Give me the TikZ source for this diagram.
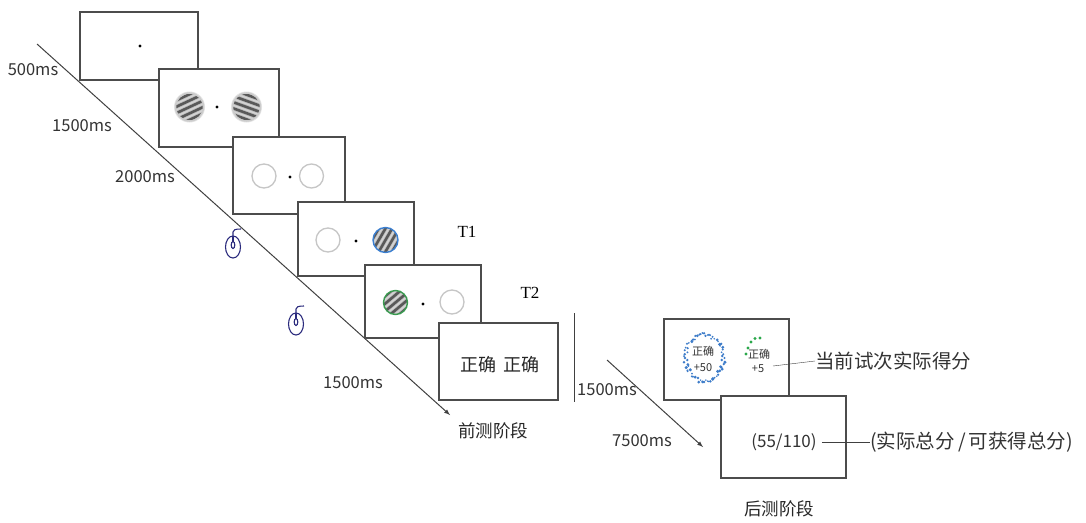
\documentclass[tikz,border=0pt]{standalone}
\usepackage{fontspec}
\setmainfont{Liberation Serif}
\newfontfamily\cjk{Noto Sans CJK SC}
\usetikzlibrary{arrows}
\usetikzlibrary{calc}
\usetikzlibrary{positioning}
\definecolor{mouseblue}{HTML}{2B2B7D}
\definecolor{rimblue}{HTML}{3B7FD0}
\definecolor{rimgreen}{HTML}{3A9A50}
\definecolor{dotblue}{HTML}{3D7CC9}
\definecolor{dotgreen}{HTML}{2AA84A}
\newcommand\fixdot[1]{\fill (#1) circle (1.6);}
\newcommand\ring[1]{\draw[gray!45, line width=1.3] (#1) circle (12);}
\newcommand\gabor[4]{% centre, radius, stripe angle, rim
    \begin{scope}
        \clip (#1) circle (#2);
        \fill[gray!50] (#1) circle (#2);
        \begin{scope}[shift={(#1)}, rotate=#3]
            \foreach \k in {-3,...,3}
                \draw[black!65, line width=2.6] (-20,\k*5.8) -- (20,\k*5.8);
            \foreach \k in {-3,...,2}
                \draw[white, opacity=0.35, line width=1.2] (-20,\k*5.8+2.9) -- (20,\k*5.8+2.9);
        \end{scope}
    \end{scope}
    \draw[#4] (#1) circle (#2);
}
\newcommand\mouse[1]{%
    \begin{scope}[shift={(#1)}, mouseblue, line width=1.1]
        \draw (0,0) ellipse (7.5 and 11);
        \draw (0,-11) -- (0,-5.5);
        \draw (0,-2) ellipse (1.8 and 3.5);
        \draw (0,-11) -- (0,-15) .. controls (0,-17) and (2,-18) .. (8,-18);
    \end{scope}
}

\begin{document}
\begin{tikzpicture}[x=1pt, y=-1pt,
    screen/.style={draw=black!70, line width=1.2, fill=white},
    ms/.style={font=\cjk\fontsize{16.5}{18}\selectfont, text=black!80, inner sep=0},
    phase/.style={font=\cjk\fontsize{17.5}{19}\selectfont, text=black!85, inner sep=0},
    note/.style={font=\cjk\fontsize{19.5}{21}\selectfont, text=black!80, inner sep=0},
    small/.style={font=\cjk\fontsize{11}{12}\selectfont, text=black!80, inner sep=0}]
    \useasboundingbox (0,0) rectangle (1086,522);
    %% pre-test timeline
    \coordinate (t0) at (37,44);
    \coordinate (t1) at (450,415);
    \draw[black!75, line width=1, -latex] (t0) -- (t1);
    \draw (33,70) node[ms](d1){500ms};
    \draw (82,126) node[ms](d2){1500ms};
    \draw (145,177) node[ms](d3){2000ms};
    \draw (353,383) node[ms](d6){1500ms};
    \draw (493,431) node[phase](pre){前测阶段};
    %% screens
    %% -- fixation
    \draw[screen] (80,12) rectangle (198,80);
    \fixdot{140,46}
    %% -- two gratings
    \draw[screen] (159,69) rectangle (279,147);
    \fill[gray!20] (189.5,107) circle (15.5);
    \fill[gray!20] (246.5,107) circle (15.5);
    \gabor{189.5,107}{14}{25}{gray!40, line width=1.5}
    \gabor{246.5,107}{14}{-20}{gray!40, line width=1.5}
    \fixdot{217,107}
    %% -- empty placeholders
    \draw[screen] (233,137) rectangle (345,214);
    \ring{264,176}
    \ring{311.5,176}
    \fixdot{290,177}
    %% -- T1 probe
    \draw[screen] (298,202) rectangle (414,276);
    \ring{328,240}
    \gabor{385.5,240}{12.5}{60}{rimblue, line width=1.4}
    \fixdot{356,241}
    \draw (467,232) node[font=\fontsize{17}{19}\selectfont](T1){T1};
    %% -- T2 probe
    \draw[screen] (365,265) rectangle (481,338);
    \gabor{395.5,302.5}{12}{40}{rimgreen, line width=1.4}
    \ring{452,302}
    \fixdot{423,304}
    \draw (530,293) node[font=\fontsize{17}{19}\selectfont](T2){T2};
    %% -- feedback
    \draw[screen] (439,323) rectangle (558,400);
    \draw (500,365) node[font=\cjk\fontsize{18}{20}\selectfont, text=black!85](fb){正确\hspace{7pt}正确};
    %% responses
    \mouse{233,247}
    \mouse{296,324}
    %% post-test
    \coordinate (sepA) at (574,313);
    \coordinate (sepB) at (574,402);
    \draw[black!75, line width=1] (sepA) -- (sepB);
    \coordinate (u0) at (607,360);
    \coordinate (u1) at (703,447);
    \draw[black!75, line width=1, -latex] (u0) -- (u1);
    \draw (607,390) node[ms](d7){1500ms};
    \draw (642,441) node[ms](d8){7500ms};
    %% -- trial score
    \draw[screen] (664,319) rectangle (789,400);
    \pgfmathsetseed{11}
    \foreach \a in {0,5,...,355} {
        \pgfmathsetmacro\rx{19+2.4*rand}
        \pgfmathsetmacro\ry{23+2.4*rand}
        \pgfmathsetmacro\rd{0.8+0.9*rnd}
        \fill[dotblue] ($(704,358)+(\a:\rx pt and \ry pt)$) circle (\rd);
    }
    \draw (703,351) node[small](c1){正确};
    \draw (703,368) node[small](s1){+50};
    \foreach \p in {{746,354},{748,348},{751,342},{755,338.5},{760,338}}
        \fill[dotgreen] (\p) circle (1.7);
    \draw (759,354) node[small](c2){正确};
    \draw (758,369) node[small](s2){+5};
    \draw (815,361) node[note, anchor=west](trial){当前试次实际得分};
    \draw[black!75] (773,366) -- (trial.west);
    %% -- total score
    \draw[screen] (721,396) rectangle (846,478);
    \draw (784,442) node[font=\cjk\fontsize{17}{19}\selectfont, text=black!80, inner sep=0](tot){(55/110)};
    \draw (870,442) node[note, anchor=west](totnote){(实际总分\,/\,可获得总分)};
    \draw[black!75] ($(tot.east)+(5,0)$) -- (totnote.west);
    \draw (779,509) node[phase](post){后测阶段};
\end{tikzpicture}
\end{document}
